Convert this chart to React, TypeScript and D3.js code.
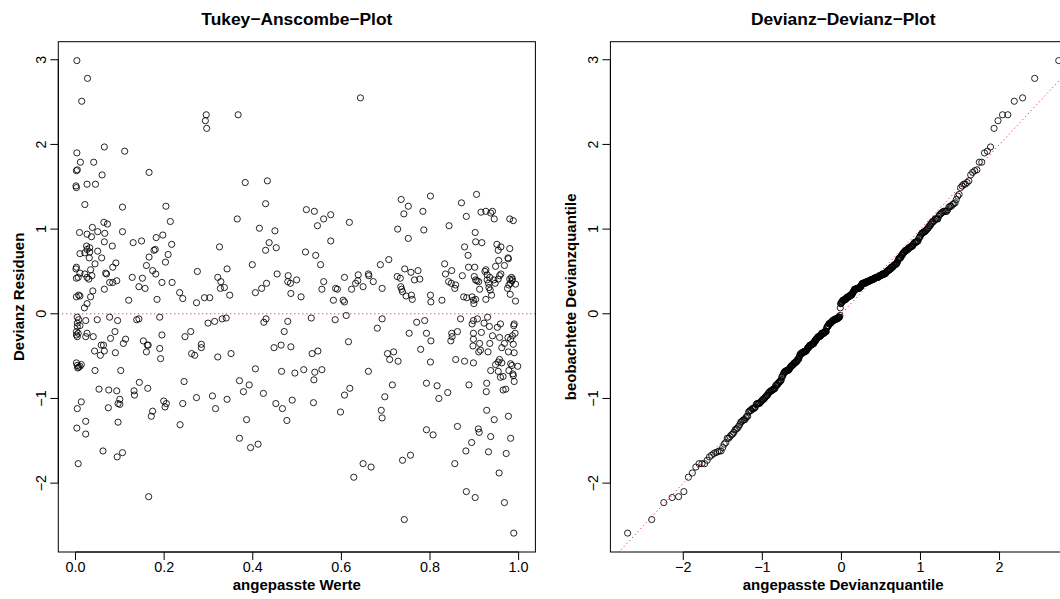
import React from "react";
import * as d3 from "d3";

// Fitted values and deviance residuals of the model, one pair per observation.
const observations: [number, number][] = [
  [0.003, 2.99], [0.027, 2.78], [0.014, 2.51], [0.295, 2.35], [0.293, 2.28], [0.296, 2.19],
  [0.367, 2.35], [0.003, 1.9], [0.011, 1.79], [0.041, 1.79], [0.002, 1.69], [0.004, 1.7],
  [0.065, 1.97], [0.111, 1.92], [0.06, 1.64], [0.166, 1.67], [0.001, 1.51], [0.002, 1.49],
  [0.026, 1.53], [0.045, 1.53], [0.383, 1.55], [0.433, 1.57], [0.643, 2.55], [0.735, 1.35],
  [0.801, 1.39], [0.905, 1.41],
  [0.021, 1.29], [0.106, 1.26], [0.204, 1.27], [0.429, 1.3], [0.365, 1.12], [0.214, 1.09],
  [0.064, 1.08], [0.072, 1.06], [0.038, 1.02], [0.009, 0.96], [0.026, 0.94], [0.036, 0.91],
  [0.05, 0.97], [0.066, 0.95], [0.106, 0.97], [0.197, 0.93], [0.182, 0.9], [0.415, 1.01],
  [0.45, 0.98], [0.065, 0.85], [0.083, 0.8], [0.13, 0.84], [0.149, 0.86], [0.217, 0.82],
  [0.437, 0.84], [0.453, 0.78], [0.429, 0.75], [0.325, 0.79], [0.025, 0.8], [0.032, 0.78],
  [0.026, 0.76], [0.032, 0.73], [0.01, 0.71], [0.021, 0.72], [0.05, 0.74], [0.18, 0.76],
  [0.177, 0.75], [0.209, 0.7], [0.166, 0.67], [0.031, 0.66], [0.059, 0.66], [0.203, 0.61],
  [0.044, 0.59], [0.091, 0.6], [0.399, 0.58], [0.16, 0.57], [0.002, 0.55], [0.001, 0.53],
  [0.084, 0.55], [0.342, 0.53], [0.034, 0.52], [0.275, 0.5], [0.174, 0.51], [0.181, 0.47],
  [0.01, 0.48], [0.021, 0.47], [0.068, 0.48], [0.07, 0.47], [0.455, 0.47], [0.002, 0.42],
  [0.006, 0.43], [0.026, 0.43], [0.037, 0.45], [0.03, 0.41], [0.128, 0.43], [0.151, 0.42],
  [0.321, 0.43], [0.093, 0.39], [0.077, 0.37], [0.084, 0.37], [0.195, 0.37], [0.218, 0.37],
  [0.328, 0.38], [0.431, 0.36], [0.143, 0.32], [0.157, 0.3], [0.327, 0.3], [0.336, 0.31],
  [0.065, 0.29], [0.039, 0.27], [0.235, 0.25], [0.42, 0.3], [0.406, 0.25], [0.034, 0.2],
  [0.007, 0.22], [0.002, 0.2], [0.01, 0.21], [0.242, 0.18], [0.184, 0.17], [0.12, 0.16],
  [0.291, 0.19], [0.303, 0.19], [0.348, 0.22], [0.273, 0.13], [0.026, 0.12], [0.02, 0.07],
  [0.751, 1.27], [0.871, 1.31], [0.521, 1.23], [0.539, 1.21], [0.741, 1.18], [0.784, 1.21],
  [0.576, 1.17], [0.56, 1.12], [0.882, 1.15], [0.915, 1.2], [0.926, 1.21], [0.941, 1.21],
  [0.937, 1.19], [0.945, 1.12], [0.98, 1.12], [0.988, 1.1], [0.618, 1.08], [0.546, 1.04],
  [0.843, 1.04], [0.727, 1.0], [0.786, 0.99], [0.751, 0.89], [0.902, 0.96], [0.903, 0.85],
  [0.917, 0.84], [0.576, 0.86], [0.951, 0.82], [0.96, 0.79], [0.98, 0.77], [0.878, 0.79],
  [0.954, 0.75], [0.519, 0.73], [0.886, 0.69], [0.542, 0.69], [0.976, 0.66], [0.977, 0.65],
  [0.707, 0.64], [0.688, 0.58], [0.955, 0.63], [0.553, 0.58], [0.833, 0.59], [0.901, 0.55],
  [0.887, 0.55], [0.948, 0.56], [0.968, 0.57], [0.743, 0.53], [0.757, 0.49], [0.773, 0.51],
  [0.849, 0.51], [0.926, 0.52], [0.924, 0.5], [0.96, 0.47], [0.48, 0.45], [0.661, 0.47],
  [0.662, 0.45], [0.638, 0.46], [0.607, 0.43], [0.726, 0.44], [0.733, 0.42], [0.835, 0.47],
  [0.873, 0.45], [0.9, 0.44], [0.906, 0.39], [0.929, 0.46], [0.935, 0.43], [0.957, 0.45],
  [0.984, 0.43], [0.986, 0.41],
  [0.993, 0.35], [0.56, 0.38], [0.556, 0.29], [0.479, 0.38], [0.485, 0.36], [0.499, 0.4],
  [0.486, 0.24], [0.509, 0.2], [0.587, 0.3], [0.591, 0.29], [0.582, 0.16], [0.604, 0.16],
  [0.607, 0.14], [0.632, 0.36], [0.637, 0.39], [0.649, 0.32], [0.623, 0.29], [0.672, 0.38],
  [0.692, 0.3], [0.734, 0.32], [0.736, 0.29], [0.738, 0.26], [0.746, 0.21], [0.758, 0.22],
  [0.76, 0.17], [0.765, 0.4], [0.777, 0.41], [0.801, 0.22], [0.802, 0.14], [0.827, 0.16],
  [0.842, 0.38], [0.848, 0.36], [0.858, 0.34], [0.856, 0.3], [0.876, 0.2], [0.883, 0.19],
  [0.895, 0.2], [0.898, 0.16], [0.899, 0.12], [0.903, 0.4], [0.91, 0.38], [0.912, 0.29],
  [0.929, 0.4], [0.932, 0.36], [0.933, 0.31], [0.936, 0.28], [0.939, 0.22], [0.944, 0.4],
  [0.947, 0.36], [0.954, 0.41], [0.926, 0.17], [0.903, 0.17], [0.98, 0.41], [0.985, 0.39],
  [0.975, 0.3], [0.981, 0.23], [0.993, 0.15], [0.982, 0.36], [0.978, 0.34],
  [0.479, -0.09], [0.532, -0.05], [0.586, -0.07], [0.611, -0.02], [0.692, -0.06], [0.681, -0.17],
  [0.77, -0.1], [0.788, -0.08], [0.869, -0.06], [0.898, -0.08], [0.895, -0.12], [0.907, -0.06],
  [0.922, -0.11], [0.93, -0.04], [0.934, -0.15], [0.952, -0.16], [0.959, -0.12], [0.99, -0.12],
  [0.989, -0.14], [0.992, -0.23], [0.986, -0.26], [0.982, -0.3], [0.471, -0.21], [0.464, -0.37],
  [0.486, -0.39], [0.534, -0.47], [0.547, -0.44], [0.616, -0.33], [0.704, -0.47], [0.718, -0.45],
  [0.709, -0.54], [0.728, -0.56], [0.753, -0.23], [0.792, -0.23], [0.802, -0.32], [0.779, -0.42],
  [0.801, -0.57], [0.849, -0.23], [0.862, -0.21], [0.847, -0.32], [0.85, -0.27], [0.898, -0.23],
  [0.916, -0.22], [0.898, -0.3], [0.912, -0.35], [0.897, -0.38], [0.914, -0.43], [0.91, -0.45],
  [0.931, -0.45], [0.935, -0.35], [0.941, -0.26], [0.957, -0.28], [0.968, -0.35], [0.976, -0.28],
  [0.962, -0.4], [0.977, -0.45], [0.99, -0.46], [0.988, -0.36], [0.858, -0.54], [0.878, -0.56],
  [0.898, -0.58], [0.957, -0.54], [0.954, -0.57], [0.948, -0.6], [0.962, -0.58], [0.982, -0.59],
  [0.985, -0.61], [0.998, -0.62], [0.937, -0.67], [0.954, -0.68], [0.978, -0.67], [0.987, -0.71],
  [0.959, -0.75], [0.965, -0.74], [0.988, -0.73], [0.99, -0.8], [0.465, -0.68], [0.495, -0.7],
  [0.515, -0.66], [0.54, -0.69], [0.556, -0.66], [0.538, -0.78], [0.661, -0.68], [0.715, -0.84],
  [0.619, -0.88], [0.607, -0.96], [0.698, -0.98], [0.792, -0.82], [0.816, -0.85], [0.84, -0.93],
  [0.82, -1.0], [0.888, -0.84], [0.928, -0.82], [0.927, -0.92], [0.965, -0.9], [0.971, -0.89],
  [0.452, -1.06], [0.467, -1.12], [0.489, -1.02], [0.477, -1.26], [0.537, -1.05], [0.598, -1.16],
  [0.69, -1.14], [0.692, -1.23], [0.928, -1.14], [0.945, -1.25], [0.977, -1.21], [0.792, -1.37],
  [0.862, -1.33], [0.909, -1.36],
  [0.004, -0.04], [0.007, -0.07], [0.004, -0.11], [0.01, -0.14], [0.004, -0.15], [0.002, -0.21],
  [0.006, -0.23], [0.002, -0.25], [0.004, -0.27], [0.023, -0.08], [0.049, -0.07], [0.077, -0.04],
  [0.095, -0.08], [0.138, -0.07], [0.143, -0.06], [0.19, -0.04], [0.299, -0.11], [0.314, -0.09],
  [0.331, -0.06], [0.34, -0.05], [0.43, -0.06], [0.425, -0.1], [0.026, -0.23], [0.023, -0.27],
  [0.04, -0.27], [0.089, -0.21], [0.079, -0.29], [0.113, -0.3], [0.108, -0.35], [0.153, -0.32],
  [0.162, -0.37], [0.164, -0.37], [0.195, -0.25], [0.247, -0.27], [0.26, -0.21], [0.284, -0.36],
  [0.284, -0.4], [0.19, -0.41], [0.058, -0.37], [0.063, -0.37], [0.043, -0.44], [0.056, -0.49],
  [0.065, -0.44], [0.09, -0.46], [0.16, -0.45], [0.192, -0.53], [0.262, -0.47], [0.269, -0.49],
  [0.321, -0.51], [0.351, -0.47], [0.448, -0.4], [0.002, -0.58], [0.004, -0.61], [0.007, -0.63],
  [0.013, -0.6], [0.01, -0.62], [0.005, -0.64], [0.044, -0.67], [0.102, -0.67], [0.406, -0.65],
  [0.144, -0.81], [0.245, -0.8], [0.37, -0.79], [0.392, -0.84], [0.053, -0.89], [0.075, -0.9],
  [0.093, -0.91], [0.132, -0.91], [0.133, -0.96], [0.163, -0.88], [0.379, -0.92], [0.424, -0.94],
  [0.273, -0.99], [0.309, -0.97], [0.342, -1.01], [0.1, -1.01], [0.013, -1.04], [0.096, -1.06],
  [0.1, -1.07], [0.199, -1.03], [0.205, -1.06], [0.202, -1.1], [0.242, -1.06], [0.004, -1.12],
  [0.074, -1.11], [0.316, -1.12], [0.174, -1.15], [0.171, -1.21], [0.023, -1.27], [0.096, -1.28],
  [0.386, -1.25], [0.003, -1.35], [0.236, -1.31],
  [0.023, -1.42], [0.062, -1.62], [0.094, -1.69], [0.106, -1.64], [0.006, -1.77], [0.165, -2.16],
  [0.37, -1.47], [0.395, -1.58], [0.412, -1.54],
  [0.807, -1.43], [0.911, -1.4], [0.937, -1.45], [0.982, -1.47], [0.894, -1.52], [0.881, -1.62],
  [0.932, -1.63], [0.972, -1.65], [0.856, -1.77], [0.956, -1.88], [0.649, -1.77], [0.667, -1.81],
  [0.628, -1.93], [0.738, -1.73], [0.756, -1.67], [0.882, -2.1], [0.902, -2.17], [0.968, -2.23],
  [0.742, -2.43], [0.989, -2.59],
];

const fittedValues = observations.map((d) => d[0]);
const devianceResiduals = observations.map((d) => d[1]);

const leftXTicks = [0, 0.2, 0.4, 0.6, 0.8, 1.0];
const rightXTicks = [-3, -2, -1, 0, 1, 2, 3];
const yTicks = [-2, -1, 0, 1, 2, 3];

const panelTitles = ["Tukey\u2212Anscombe\u2212Plot", "Devianz\u2212Devianz\u2212Plot"];
const xAxisTitles = ["angepasste Werte", "angepasste Devianzquantile"];
const yAxisTitles = ["Devianz Residuen", "beobachtete Devianzquantile"];

const FONT = "'Liberation Sans', Arial, Helvetica, sans-serif";
const W = 1060;
const H = 599;

// Inverse of the standard normal CDF (Acklam's rational approximation).
function qnorm(p: number): number {
  const a = [-39.69683028665376, 220.9460984245205, -275.9285104469687, 138.357751867269, -30.66479806614716, 2.506628277459239];
  const b = [-54.47609879822406, 161.5858368580409, -155.6989798598866, 66.80131188771972, -13.28068155288572];
  const c = [-0.007784894002430293, -0.3223964580411365, -2.400758277161838, -2.549732539343734, 4.374664141464968, 2.938163982698783];
  const d = [0.007784695709041462, 0.3224671290700398, 2.445134137142996, 3.754408661907416];
  const plow = 0.02425;
  if (p < plow) {
    const q = Math.sqrt(-2 * Math.log(p));
    return (((((c[0] * q + c[1]) * q + c[2]) * q + c[3]) * q + c[4]) * q + c[5]) / ((((d[0] * q + d[1]) * q + d[2]) * q + d[3]) * q + 1);
  }
  if (p > 1 - plow) {
    const q = Math.sqrt(-2 * Math.log(1 - p));
    return -(((((c[0] * q + c[1]) * q + c[2]) * q + c[3]) * q + c[4]) * q + c[5]) / ((((d[0] * q + d[1]) * q + d[2]) * q + d[3]) * q + 1);
  }
  const q = p - 0.5;
  const r = q * q;
  return ((((((a[0] * r + a[1]) * r + a[2]) * r + a[3]) * r + a[4]) * r + a[5]) * q) / (((((b[0] * r + b[1]) * r + b[2]) * r + b[3]) * r + b[4]) * r + 1);
}

// Range padded by 4% on each side, as R does for its plot limits.
function padded(values: number[]): [number, number] {
  const [lo, hi] = d3.extent(values) as [number, number];
  const pad = (hi - lo) * 0.04;
  return [lo - pad, hi + pad];
}

// Observed residual quantiles against the quantiles of a normal distribution fitted to them.
const sortedResiduals = [...devianceResiduals].sort((a, b) => a - b);
const nObs = sortedResiduals.length;
const resMean = d3.mean(sortedResiduals) as number;
const resSd = d3.deviation(sortedResiduals) as number;
const fittedQuantiles = sortedResiduals.map((_, i) => resMean + resSd * qnorm((i + 0.5) / nObs));

const fmtX = d3.format(".1f");
const fmtInt = d3.format("d");

type PanelProps = {
  id: string;
  left: number;
  right: number;
  top: number;
  bottom: number;
  xs: number[];
  ys: number[];
  xTicks: number[];
  xFormat: (v: number) => string;
  title: string;
  xTitle: string;
  yTitle: string;
  refLine: (x: number) => number;
};

function Panel(p: PanelProps) {
  const x = d3.scaleLinear().domain(padded(p.xs)).range([p.left, p.right]);
  const y = d3.scaleLinear().domain(padded(p.ys)).range([p.bottom, p.top]);
  const [x0, x1] = x.domain();
  const ticksX = p.xTicks.filter((t) => t >= x0 && t <= x1);
  const [y0, y1] = y.domain();
  const ticksY = yTicks.filter((t) => t >= y0 && t <= y1);
  const cx = (p.left + p.right) / 2;
  const cy = (p.top + p.bottom) / 2;
  const line = d3.line<number>().x((v) => x(v)).y((v) => y(p.refLine(v)));
  const tickLen = 8;
  return (
    <g>
      <defs>
        <clipPath id={p.id}>
          <rect x={p.left} y={p.top} width={p.right - p.left} height={p.bottom - p.top} />
        </clipPath>
      </defs>
      <text x={cx} y={25} textAnchor="middle" fontFamily={FONT} fontWeight="bold" fontSize={17.4}>
        {p.title}
      </text>
      <path
        d={line([x0, x1]) as string}
        clipPath={`url(#${p.id})`}
        fill="none"
        stroke="#ff0000"
        strokeWidth={1}
        strokeDasharray="1 3"
      />
      <g fill="none" stroke="#000" strokeWidth={0.85}>
        {p.xs.map((v, i) => (
          <circle key={i} cx={x(v)} cy={y(p.ys[i])} r={3.1} />
        ))}
      </g>
      <rect x={p.left} y={p.top} width={p.right - p.left} height={p.bottom - p.top} fill="none" stroke="#000" strokeWidth={1} />
      <g stroke="#000" strokeWidth={1}>
        <line x1={x(ticksX[0])} x2={x(ticksX[ticksX.length - 1])} y1={p.bottom} y2={p.bottom} />
        {ticksX.map((t) => (
          <line key={t} x1={x(t)} x2={x(t)} y1={p.bottom} y2={p.bottom + tickLen} />
        ))}
        <line x1={p.left} x2={p.left} y1={y(ticksY[0])} y2={y(ticksY[ticksY.length - 1])} />
        {ticksY.map((t) => (
          <line key={t} x1={p.left - tickLen} x2={p.left} y1={y(t)} y2={y(t)} />
        ))}
      </g>
      <g fontFamily={FONT} fontSize={14.4} fill="#000">
        {ticksX.map((t) => (
          <text key={t} x={x(t)} y={p.bottom + 20} textAnchor="middle">
            {p.xFormat(t)}
          </text>
        ))}
        {ticksY.map((t) => (
          <text key={t} transform={`translate(${p.left - 12},${y(t)}) rotate(-90)`} textAnchor="middle">
            {fmtInt(t)}
          </text>
        ))}
      </g>
      <text x={cx} y={p.bottom + 38} textAnchor="middle" fontFamily={FONT} fontWeight="bold" fontSize={15}>
        {p.xTitle}
      </text>
      <text
        transform={`translate(${p.left - 34},${cy}) rotate(-90)`}
        textAnchor="middle"
        fontFamily={FONT}
        fontWeight="bold"
        fontSize={15}
      >
        {p.yTitle}
      </text>
    </g>
  );
}

export default function App() {
  return (
    <svg
      width={W}
      height={H}
      viewBox={`0 0 ${W} ${H}`}
      style={{ position: "absolute", left: 0, top: 0, background: "#fff" }}
    >
      <rect width={W} height={H} fill="#fff" />
      <Panel
        id="clip-ta"
        left={58.3}
        right={535.4}
        top={41.7}
        bottom={552}
        xs={fittedValues}
        ys={devianceResiduals}
        xTicks={leftXTicks}
        xFormat={fmtX}
        title={panelTitles[0]}
        xTitle={xAxisTitles[0]}
        yTitle={yAxisTitles[0]}
        refLine={() => 0}
      />
      <Panel
        id="clip-dd"
        left={610.4}
        right={1076}
        top={41.7}
        bottom={552}
        xs={fittedQuantiles}
        ys={sortedResiduals}
        xTicks={rightXTicks}
        xFormat={fmtInt}
        title={panelTitles[1]}
        xTitle={xAxisTitles[1]}
        yTitle={yAxisTitles[1]}
        refLine={(v) => v}
      />
    </svg>
  );
}
